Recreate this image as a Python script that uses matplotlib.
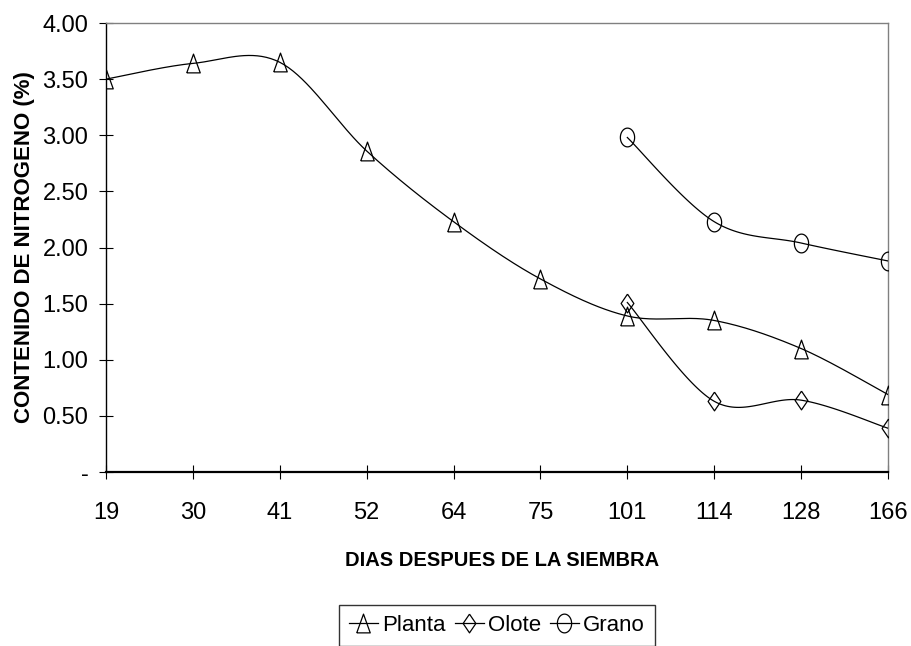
import numpy as np
import matplotlib
matplotlib.use("Agg")
import matplotlib.pyplot as plt
from matplotlib.path import Path
from matplotlib.lines import Line2D

plt.rcParams['font.family'] = ['Liberation Sans', 'DejaVu Sans']

# datos
dias = ['19', '30', '41', '52', '64', '75', '101', '114', '128', '166']
planta = [3.50, 3.64, 3.65, 2.86, 2.23, 1.72, 1.39, 1.35, 1.10, 0.69]
olote = [None, None, None, None, None, None, 1.51, 0.63, 0.64, 0.39]
grano = [None, None, None, None, None, None, 2.98, 2.23, 2.04, 1.88]
y_ticks = [0, 0.5, 1.0, 1.5, 2.0, 2.5, 3.0, 3.5, 4.0]


def smooth(xs, ys, n=40):
    # curva suavizada tipo Excel (bezier con puntos de control 1/6)
    pts = np.column_stack([xs, ys]).astype(float)
    m = len(pts)
    out = [pts[:1]]
    for i in range(m - 1):
        p0 = pts[max(i - 1, 0)]
        p1 = pts[i]
        p2 = pts[i + 1]
        p3 = pts[min(i + 2, m - 1)]
        c1 = p1 + (p2 - p0) / 6.0
        c2 = p2 - (p3 - p1) / 6.0
        t = np.linspace(0, 1, n)[1:, None]
        seg = ((1 - t) ** 3 * p1 + 3 * (1 - t) ** 2 * t * c1
               + 3 * (1 - t) * t ** 2 * c2 + t ** 3 * p2)
        out.append(seg)
    out = np.vstack(out)
    return out[:, 0], out[:, 1]


tri = Path([(-0.36, -0.5), (0.36, -0.5), (0, 0.5), (-0.36, -0.5)])
dia = Path([(0, 0.5), (0.34, 0), (0, -0.5), (-0.34, 0), (0, 0.5)])
th = np.linspace(0, 2 * np.pi, 60)
ell = Path(np.column_stack([0.38 * np.cos(th), 0.5 * np.sin(th)]))

fig = plt.figure(figsize=(9.11, 6.46), dpi=100)
ax = fig.add_axes([106 / 911, 1 - 472 / 646, (888 - 106) / 911, (472 - 23) / 646])

series = [('Planta', planta, tri), ('Olote', olote, dia), ('Grano', grano, ell)]
handles = []
for name, vals, mk in series:
    xs = [i for i, v in enumerate(vals) if v is not None]
    ys = [v for v in vals if v is not None]
    sx, sy = smooth(xs, ys)
    ax.plot(sx, sy, color='black', lw=0.9, zorder=3)
    ax.plot(xs, ys, linestyle='none', marker=mk, ms=13.5, mfc='none',
            mec='black', mew=0.9, zorder=4)
    handles.append(Line2D([], [], color='black', lw=0.9, marker=mk, ms=13.5,
                          mfc='none', mec='black', mew=0.9, label=name))

ax.set_xlim(0, 9)
ax.set_ylim(0, 4)
ax.set_xticks(range(len(dias)))
ax.set_xticklabels(dias)
ax.set_yticks(y_ticks)
ax.set_yticklabels(['-'] + ['%.2f' % v for v in y_ticks[1:]])
ax.tick_params(axis='both', direction='inout', length=9.5, width=0.8,
               labelsize=17, colors='black')
ax.tick_params(axis='x', pad=17)
ax.tick_params(axis='y', pad=8)
ax.tick_params(top=False, right=False)

for s in ['top', 'right']:
    ax.spines[s].set_color('#808080')
    ax.spines[s].set_linewidth(1.0)
ax.spines['left'].set_linewidth(1.0)
ax.spines['bottom'].set_linewidth(1.6)

ax.set_ylabel('CONTENIDO DE NITROGENO (%)', fontsize=16, fontweight='bold')
ax.yaxis.set_label_coords(-(106 - 35) / 782, 0.5)
fig.text(502 / 911, 1 - 560 / 646, 'DIAS DESPUES DE LA SIEMBRA', fontsize=14.5,
         fontweight='bold', ha='center', va='center')

leg = fig.legend(handles=handles, loc='upper center', ncol=3,
                 bbox_to_anchor=(497 / 911, 1 - 605 / 646), fontsize=16,
                 frameon=True, fancybox=False, edgecolor='black',
                 handlelength=1.3, handletextpad=0.2, columnspacing=0.4,
                 borderpad=0.45, borderaxespad=0)
leg.get_frame().set_linewidth(1.0)

fig.savefig('out.png', dpi=100)
